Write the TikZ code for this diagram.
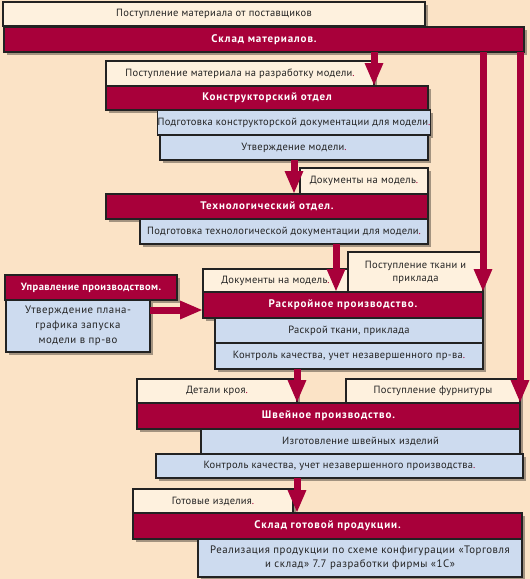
\documentclass[tikz,border=0pt]{standalone}
\usepackage{fontspec}
\setmainfont{PT Sans}
\usetikzlibrary{arrows.meta,shadows}
\definecolor{bgc}{HTML}{FBE3C6}
\definecolor{crim}{HTML}{A8003A}
\definecolor{rowblue}{HTML}{CDDBEF}
\definecolor{cream}{HTML}{FEF1DE}
\definecolor{bord}{HTML}{222222}
\newcommand\rdot{\textcolor{crim}{.}}
\begin{document}
\begin{tikzpicture}[x=1pt,y=-1pt,
  base/.style={draw=bord, line width=1.1pt, inner sep=0pt, outer sep=0pt, align=center,
    drop shadow={shadow xshift=3pt,shadow yshift=-3pt,fill=black,opacity=0.35}},
  hdr/.style={base, fill=crim, text=white, font=\bfseries\fontsize{11}{12}\selectfont\addfontfeature{LetterSpace=8}},
  lbl/.style={base, fill=cream, text=bord, font=\fontsize{10.5}{13}\selectfont\addfontfeature{LetterSpace=3}},
  rowbox/.style={base, fill=rowblue, text=bord, font=\fontsize{10.5}{13}\selectfont\addfontfeature{LetterSpace=3}},
  arr/.style={crim, line width=7pt, -{Triangle[length=23pt,width=17pt]}},
  bar/.style={crim, line width=7pt, -{Triangle[length=23pt,width=17pt]}},
]
\fill[bgc] (0,0) rectangle (530,579);
\useasboundingbox (0,0) rectangle (530,579);

\node[lbl, minimum width=422pt, minimum height=24pt] (l0) at (214,14) {Поступление материала от поставщиков};
\node[hdr, minimum width=520pt, minimum height=25pt] (h0) at (264,39.5) {Склад материалов.};

\node[lbl, minimum width=268pt, minimum height=25pt] (l1) at (240,73.5) {Поступление материала на разработку модели\rdot};
\node[hdr, minimum width=322pt, minimum height=24pt] (h1) at (267,98) {Конструкторский отдел};
\node[rowbox, minimum width=268pt, minimum height=25pt] (r1a) at (294,122.5) {Подготовка конструкторской документации для модели\rdot};
\node[rowbox, minimum width=268pt, minimum height=25pt] (r1b) at (294,147.5) {Утверждение модели\rdot};

\node[lbl, minimum width=128pt, minimum height=26pt] (l2) at (364,181) {Документы на модель\rdot};
\node[hdr, minimum width=322pt, minimum height=25pt] (h2) at (267,206.5) {Технологический отдел.};
\node[rowbox, minimum width=288pt, minimum height=25pt] (r2a) at (284,231.5) {Подготовка технологической документации для модели\rdot};

\node[lbl, minimum width=145pt, minimum height=23pt] (l3a) at (275.5,280.5) {Документы на модель\rdot};
\node[lbl, minimum width=135pt, minimum height=40pt] (l3b) at (415.5,272) {Поступление ткани и\\приклада};
\node[hdr, minimum width=172pt, minimum height=25pt, font=\bfseries\fontsize{10.5}{12}\selectfont\addfontfeature{LetterSpace=4}] (hu) at (91,287.5) {Управление производством.};
\node[rowbox, minimum width=144pt, minimum height=52pt, font=\fontsize{10.8}{15}\selectfont\addfontfeature{LetterSpace=5}] (ru) at (78,326) {Утверждение плана-\\графика запуска\\модели в пр-во};
\node[hdr, minimum width=280pt, minimum height=26pt] (h3) at (343,305) {Раскройное производство.};
\node[rowbox, minimum width=268pt, minimum height=25pt] (r3a) at (349,330.5) {Раскрой ткани, приклада};
\node[rowbox, minimum width=268pt, minimum height=26pt] (r3b) at (349,356) {Контроль качества, учет незавершенного пр-ва\rdot};

\node[lbl, minimum width=160pt, minimum height=24pt] (l4a) at (217,391) {Детали кроя\rdot};
\node[lbl, minimum width=174pt, minimum height=24pt] (l4b) at (433,391) {Поступление фурнитуры};
\node[hdr, minimum width=383pt, minimum height=26pt] (h4) at (328.5,416) {Швейное производство.};
\node[rowbox, minimum width=319pt, minimum height=25pt] (r4a) at (360.5,441.5) {Изготовление швейных изделий};
\node[rowbox, minimum width=367pt, minimum height=24pt] (r4b) at (339.5,466) {Контроль качества, учет незавершенного производства\rdot};

\node[lbl, minimum width=160pt, minimum height=24pt] (l5) at (213,501) {Готовые изделия\rdot};
\node[hdr, minimum width=389pt, minimum height=26pt] (h5) at (327.5,526) {Склад готовой продукции.};
\node[rowbox, minimum width=324pt, minimum height=38pt, font=\fontsize{10.8}{14}\selectfont\addfontfeature{LetterSpace=5}] (r5) at (360,558) {Реализация продукции по схеме конфигурации «Торговля\\и склад» 7.7 разработки фирмы «1С»};

% connectors
\coordinate (c2) at ([xshift=52pt]r2a.south);
\coordinate (u3) at ([yshift=-5pt]h3.west);
\draw[arr] (l1.east |- h0.south) -- (l1.east |- h1.north);
\draw[arr] (r1b.south) -- (r1b.south |- h2.north);
\draw[arr] (c2) -- (c2 |- h3.north);
\draw[arr] (ru.east |- u3) -- (u3);
\draw[arr] (l4a.east |- r3b.south) -- (l4a.east |- h4.north);
\draw[arr] (l4a.east |- r4b.south) -- (l4a.east |- h5.north);
\draw[bar] (h3.north east |- h0.south) -- (h3.north east);
\draw[bar] (h4.north east |- h0.south) -- (h4.north east);
\end{tikzpicture}
\end{document}
